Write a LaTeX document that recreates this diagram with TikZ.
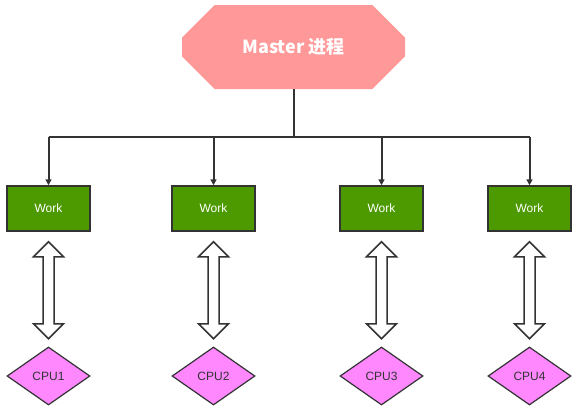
\documentclass[tikz,border=0pt]{standalone}
\usepackage{fontspec}
\setmainfont{Liberation Sans}
\newfontfamily\cjk{Noto Sans CJK SC}
\usepackage{tikz}
\usetikzlibrary{shapes.misc,shapes.geometric,positioning,calc,arrows.meta}
\definecolor{masterpink}{HTML}{FF9999}
\definecolor{workgreen}{HTML}{4D9900}
\definecolor{cpupink}{HTML}{FF88FF}
\definecolor{wiregray}{HTML}{333333}

\begin{document}
\begin{tikzpicture} [x=1pt, y=-1pt, node distance = 167.5pt, on grid,
    master/.style = {chamfered rectangle, chamfered rectangle xsep=24pt, chamfered rectangle ysep=24pt,
        fill=masterpink, minimum width=223pt, minimum height=84pt, inner sep=0pt, text=white,
        font=\cjk\bfseries\fontsize{18}{20}\selectfont},
    worker/.style = {rectangle, draw=wiregray, line width=1.5pt, fill=workgreen, minimum width=83pt,
        minimum height=45pt, text=white, font=\fontsize{12}{14}\selectfont},
    cpu/.style = {diamond, draw=wiregray, line width=1.2pt, fill=cpupink, minimum width=83pt,
        minimum height=58pt, inner sep=0pt, text=wiregray, font=\fontsize{12}{14}\selectfont},
    wire/.style = {draw=wiregray, line width=2pt},
    link/.style = {draw=wiregray, line width=1.5pt, fill=white, line join=miter}]
       \useasboundingbox (0,0) rectangle (575,410);
       \node (m) [master] at (293.5,47) {\raisebox{-2pt}{Master 进程}};
       \node (w1) [worker] at (48.5,208.5) {Work};
       \node (w2) [worker] at (213.5,208.5) {Work};
       \node (w3) [worker] at (381.5,208.5) {Work};
       \node (w4) [worker] at (529.5,208.5) {Work};
       \node (c1) [cpu] [below = of w1] {CPU1};
       \node (c2) [cpu] [below = of w2] {CPU2};
       \node (c3) [cpu] [below = of w3] {CPU3};
       \node (c4) [cpu] [below = of w4] {CPU4};
       \coordinate (bus) at (293.5,137);
       % master to the workers
       \draw[wire] (m.south) -- (bus);
       \draw[wire] (w1.north |- bus) -- (w4.north |- bus);
       \foreach \i in {1,...,4}
         \draw[wire, -{Triangle[length=6pt,width=6pt]}] (w\i.north |- bus) -- (w\i.north);
       % workers to the cpus
       \foreach \i in {1,...,4}
         \draw[link] ($(w\i.south)+(0,10)$) -- ++(15,15) -- ++(-9.5,0) -- ++(0,67) -- ++(9.5,0)
           -- ++(-15,15) -- ++(-15,-15) -- ++(9.5,0) -- ++(0,-67) -- ++(-9.5,0) -- cycle;
     \end{tikzpicture}
\end{document}
